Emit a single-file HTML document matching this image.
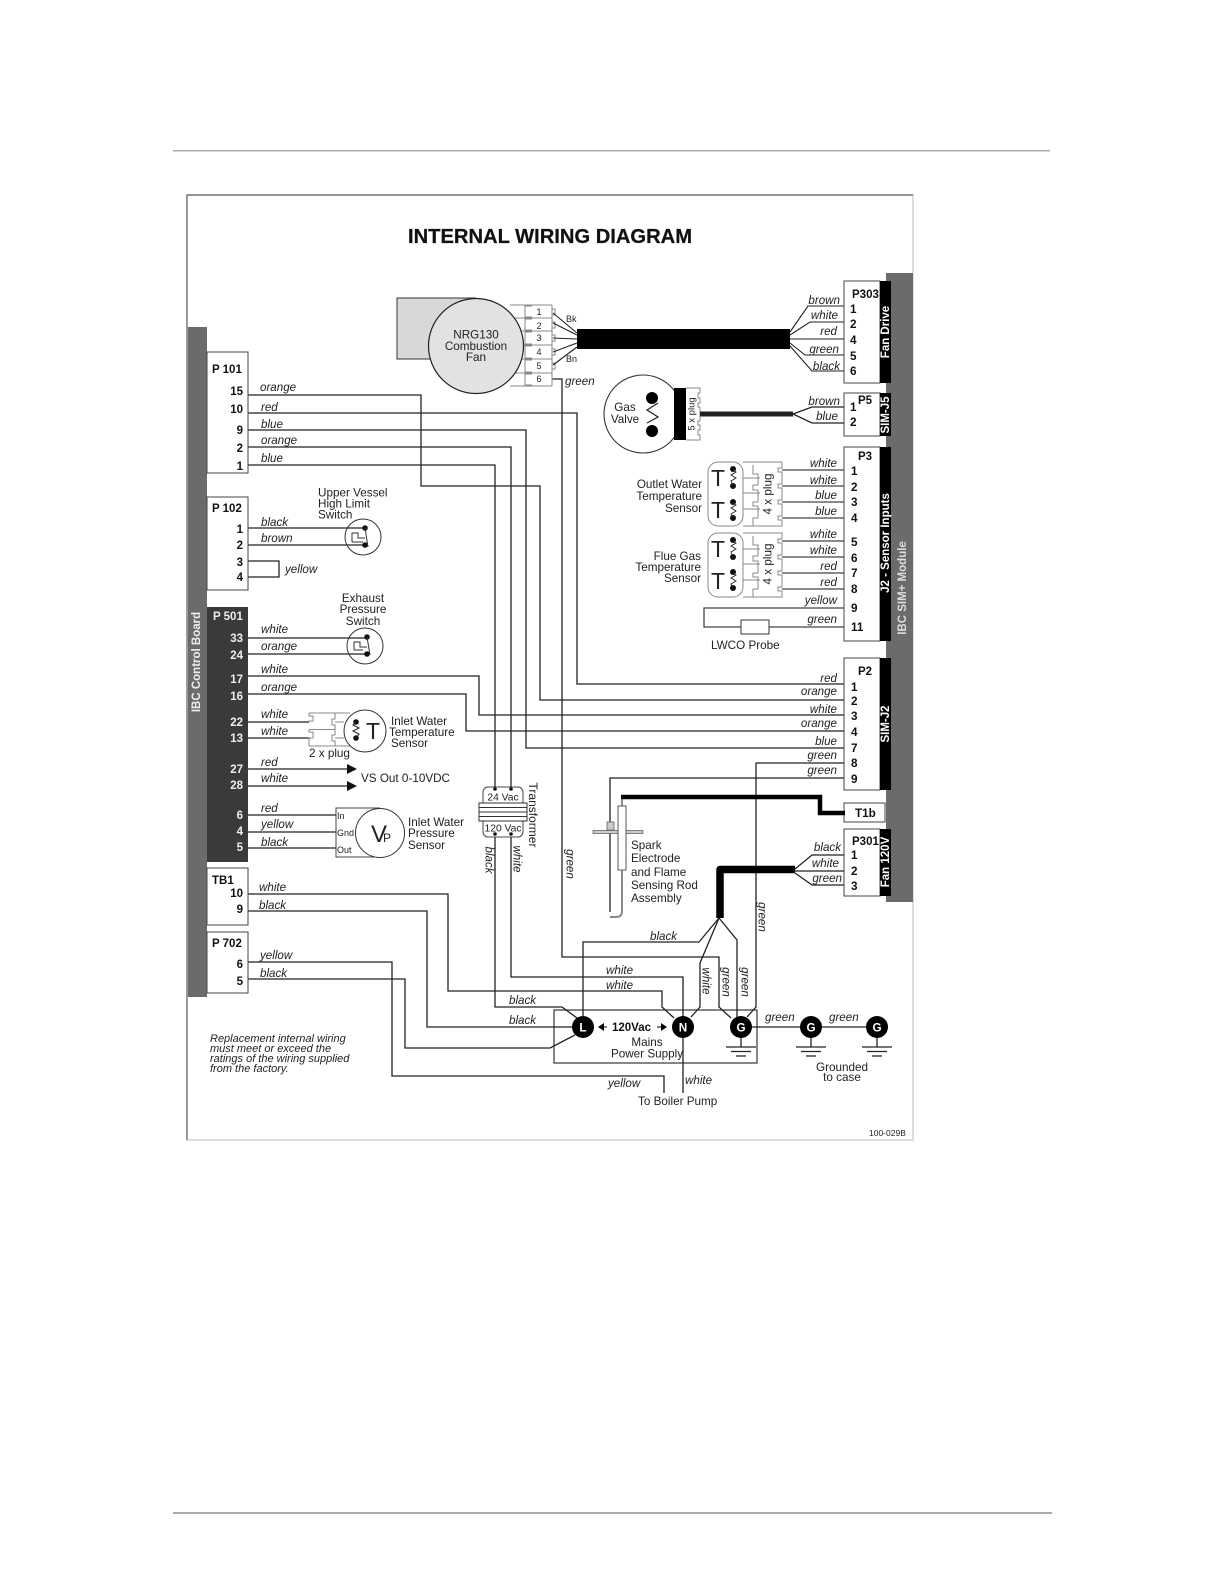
<!DOCTYPE html>
<html><head><meta charset="utf-8"><style>
html,body{margin:0;padding:0;background:#fff}
svg{display:block;filter:blur(.35px)}
text{font-family:"Liberation Sans",sans-serif;font-size:11.7px;fill:#222}
.i,.i text{font-style:italic;font-size:11.6px}
.b{font-weight:bold;fill:#111}
.w{font-weight:bold;fill:#fff}
.e{text-anchor:end}
.m{text-anchor:middle}
.c{dominant-baseline:central;text-anchor:middle}
.s{font-size:9px}
.n{font-weight:bold;font-size:11.5px;text-anchor:end;fill:#111}
.nw{font-weight:bold;font-size:11.5px;text-anchor:end;fill:#eee}
.p{fill:none;stroke:#222;stroke-width:1.3}
.g{fill:none;stroke:#888;stroke-width:1}
.box{fill:#fff;stroke:#444;stroke-width:1}
</style></head><body>
<svg width="1224" height="1584" viewBox="0 0 1224 1584" xmlns="http://www.w3.org/2000/svg">
<rect width="1224" height="1584" fill="#fff"/>
<rect x="173" y="150" width="877" height="1.5" fill="#aaa"/>
<rect x="173" y="1512" width="879" height="2" fill="#aaa"/>
<!-- frame -->
<rect x="187" y="195" width="726" height="945" fill="#fff" stroke="#d4d4d4" stroke-width="1.5"/>
<path d="M187,1140V195H913" fill="none" stroke="#666" stroke-width="1.2"/>
<text x="408" y="243" class="b" style="font-size:20.5px;stroke:#111;stroke-width:.25" textLength="284" lengthAdjust="spacingAndGlyphs">INTERNAL WIRING DIAGRAM</text>

<!-- bars -->
<rect x="188" y="327" width="19" height="670" fill="#6b6b6b"/>
<rect x="886" y="273" width="27" height="629" fill="#6b6b6b"/>
<text class="c" transform="translate(197 662) rotate(-90)" style="font-weight:bold;font-size:11.5px;fill:#eee">IBC Control Board</text>
<text class="c" transform="translate(903 588) rotate(-90)" style="font-weight:bold;font-size:11.5px;fill:#ddd">IBC SIM+ Module</text>

<!-- long wires -->
<g class="p">
<path d="M248,395H421V486H540V700H844"/>
<path d="M248,413H577V684H844"/>
<path d="M248,430H526V748H844"/>
<path d="M248,447H511V789"/>
<path d="M248,465H495V789"/>
<path d="M248,676H479V715H844"/>
<path d="M248,694H466V731H844"/>
<path d="M844,763H756V1007L747,1017"/>
<path d="M844,778H610V912"/>
<path d="M552,379H562V957H719V1007L731,1018"/>
<path d="M495,834V1007H562L577,1018"/>
<path d="M511,834V977H683V1093"/>
<path d="M248,894H448V991H662V1007L674,1018"/>
<path d="M248,911H427V1027H572"/>
<path d="M248,962H392V1076H664V1093"/>
<path d="M248,979H405V1048H550L575,1035"/>
<path d="M719,918L699,942H583V1027"/>
<path d="M719,918L700,963V1007L691,1017"/>
<path d="M719,918L737,940V1020"/>
<path d="M248,528H365M248,545H365"/>
<path d="M248,561H279V577H248"/>
<path d="M248,638H367M248,654H367"/>
<path d="M248,722H309M248,738H309"/>
<path d="M248,769H348M248,786H348"/>
<path d="M248,815H336M248,832H336M248,848H336"/>
<path d="M741,1027H877"/>
</g>
<path d="M347,764L357,769L347,774ZM347,781L357,786L347,791Z" fill="#111"/>

<!-- connector boxes left -->
<rect class="box" x="207" y="352" width="41" height="121"/>
<rect class="box" x="207" y="497" width="41" height="93"/>
<rect x="207" y="607" width="41" height="255" fill="#3a3a3a"/>
<rect class="box" x="207" y="868" width="41" height="57"/>
<rect class="box" x="207" y="932" width="41" height="61"/>
<text x="212" y="373" class="b" style="font-size:11.5px">P 101</text>
<text x="243" y="395" class="n">15</text><text x="243" y="413" class="n">10</text><text x="243" y="434" class="n">9</text><text x="243" y="452" class="n">2</text><text x="243" y="470" class="n">1</text>
<text x="212" y="512" class="b" style="font-size:11.5px">P 102</text>
<text x="243" y="533" class="n">1</text><text x="243" y="549" class="n">2</text><text x="243" y="566" class="n">3</text><text x="243" y="581" class="n">4</text>
<text x="213" y="620" class="w" style="font-size:11.5px;fill:#eee">P 501</text>
<text x="243" y="642" class="nw">33</text><text x="243" y="659" class="nw">24</text><text x="243" y="683" class="nw">17</text><text x="243" y="700" class="nw">16</text><text x="243" y="726" class="nw">22</text><text x="243" y="742" class="nw">13</text><text x="243" y="773" class="nw">27</text><text x="243" y="789" class="nw">28</text><text x="243" y="819" class="nw">6</text><text x="243" y="835" class="nw">4</text><text x="243" y="851" class="nw">5</text>
<text x="212" y="884" class="b" style="font-size:11.5px">TB1</text>
<text x="243" y="897" class="n">10</text><text x="243" y="913" class="n">9</text>
<text x="212" y="947" class="b" style="font-size:11.5px">P 702</text>
<text x="243" y="968" class="n">6</text><text x="243" y="985" class="n">5</text>

<!-- left wire labels -->
<g class="i">
<text x="260" y="391">orange</text><text x="261" y="411">red</text><text x="261" y="428">blue</text><text x="261" y="444">orange</text><text x="261" y="462">blue</text>
<text x="261" y="526">black</text><text x="261" y="542">brown</text><text x="285" y="573">yellow</text>
<text x="261" y="633">white</text><text x="261" y="650">orange</text><text x="261" y="673">white</text><text x="261" y="691">orange</text>
<text x="261" y="718">white</text><text x="261" y="735">white</text><text x="261" y="766">red</text><text x="261" y="782">white</text>
<text x="261" y="812">red</text><text x="261" y="828">yellow</text><text x="261" y="846">black</text>
<text x="259" y="891">white</text><text x="259" y="909">black</text><text x="260" y="959">yellow</text><text x="260" y="977">black</text>
</g>

<!-- switches -->
<text x="318" y="496.5">Upper Vessel</text><text x="318" y="507.5">High Limit</text><text x="318" y="518.5">Switch</text>
<circle cx="363" cy="537" r="18" fill="none" stroke="#333"/>
<circle cx="365" cy="528" r="2.8" fill="#111"/><circle cx="365" cy="545" r="2.8" fill="#111"/>
<path d="M365,528L368,547M352,542V533H358V538H365M352,542H363" fill="none" stroke="#333"/>
<text x="363" y="602" class="m">Exhaust</text><text x="363" y="613" class="m">Pressure</text><text x="363" y="625" class="m">Switch</text>
<circle cx="365" cy="646" r="18" fill="none" stroke="#333"/>
<circle cx="367" cy="637" r="2.8" fill="#111"/><circle cx="367" cy="654" r="2.8" fill="#111"/>
<path d="M367,637L370,655M354,650V642H360V647H367M354,650H363" fill="none" stroke="#333"/>

<!-- inlet temperature -->
<path class="g" d="M309,713H335M309,746H335M309,729.5H335M309,713V716H313V721H309V722M309,729.5V732H313V738H309V746M335,713V719H332V725H335V729.5M335,729.5V735H332V741H335V746M335,713H350M335,746H350M335,722H344M335,738H344"/>
<circle cx="365" cy="731" r="21" fill="#fff" stroke="#333"/>
<circle cx="356" cy="722" r="2.8" fill="#111"/><circle cx="356" cy="738" r="2.8" fill="#111"/>
<path d="M356,722L353,725L359,728L353,731L359,734L356,738" fill="none" stroke="#222"/>
<text x="373" y="739" class="m" style="font-size:23px">T</text>
<text x="391" y="725">Inlet Water</text><text x="389" y="736">Temperature</text><text x="391" y="747">Sensor</text>
<text x="309" y="757">2 x plug</text>
<text x="361" y="782">VS Out 0-10VDC</text>

<!-- pressure -->
<path d="M380,808H336V857H380" fill="none" stroke="#444"/>
<circle cx="380" cy="833" r="24.5" fill="#fff" stroke="#333"/>
<text x="337" y="819" class="s">In</text><text x="337" y="836" class="s">Gnd</text><text x="337" y="853" class="s">Out</text>
<text x="371" y="842" style="font-size:24px">V</text><text x="383" y="842" style="font-size:12px">P</text>
<text x="408" y="826">Inlet Water</text><text x="408" y="837">Pressure</text><text x="408" y="849">Sensor</text>

<!-- fan -->
<path d="M476,298H397V359H450" fill="#d8d8d8" stroke="#333"/>
<path class="g" d="M510,305H552M510,318H552M510,331H552M510,345H552M510,359H552M510,373H552M510,386H552M532,306H525V317H532M532,319H525V330H532M532,332H525V344H532M532,346H525V358H532M532,360H525V372H532M532,374H525V385H532M552,305V386M552,309H555V315H552M552,322H555V328H552M552,335H555V341H552M552,349H555V355H552M552,363H555V369H552"/>
<circle cx="476" cy="346" r="47.5" fill="#e2e2e2" stroke="#222" stroke-width="1.2"/>
<text x="476" y="338.5" class="m">NRG130</text><text x="476" y="350" class="m">Combustion</text><text x="476" y="361" class="m">Fan</text>
<text x="539" y="315" class="m s">1</text><text x="539" y="329" class="m s">2</text><text x="539" y="341" class="m s">3</text><text x="539" y="355" class="m s">4</text><text x="539" y="369" class="m s">5</text><text x="539" y="382" class="m s">6</text>
<text x="566" y="322" class="s">Bk</text><text x="566" y="362" class="s">Bn</text>
<text x="565" y="385" class="i">green</text>
<g class="p" style="stroke-width:1.1">
<path d="M553,313L577,333M553,323L577,335M553,338L577,339M553,352L577,343M553,365L577,347"/>
<path d="M844,306H808L790,332M844,322H810L790,335M844,339H790M844,355H805L790,343M844,371H812L790,346"/>
</g>
<rect x="577" y="329" width="213" height="20" fill="#000"/>

<!-- right connectors -->
<rect class="box" x="844" y="281" width="36" height="102"/><rect x="880" y="281" width="11" height="102" fill="#000"/>
<rect class="box" x="844" y="393" width="36" height="43"/><rect x="880" y="393" width="11" height="43" fill="#000"/>
<rect class="box" x="844" y="447" width="36" height="194"/><rect x="880" y="447" width="11" height="194" fill="#000"/>
<rect class="box" x="844" y="658" width="36" height="132"/><rect x="880" y="658" width="11" height="132" fill="#000"/>
<rect class="box" x="844" y="803" width="41" height="19"/>
<rect class="box" x="844" y="829" width="36" height="67"/><rect x="880" y="829" width="11" height="67" fill="#000"/>
<text class="c" transform="translate(886 332) rotate(-90)" style="font-weight:bold;font-size:11.5px;fill:#fff">Fan Drive</text>
<text class="c" transform="translate(886 415) rotate(-90)" style="font-weight:bold;font-size:11.5px;fill:#fff">SIM-J5</text>
<text class="c" transform="translate(886 543) rotate(-90)" style="font-weight:bold;font-size:11.5px;fill:#fff">J2 - Sensor Inputs</text>
<text class="c" transform="translate(886 724) rotate(-90)" style="font-weight:bold;font-size:11.5px;fill:#fff">SIM-J2</text>
<text class="c" transform="translate(886 862) rotate(-90)" style="font-weight:bold;font-size:11.5px;fill:#fff">Fan 120V</text>
<g style="font-weight:bold">
<text x="852" y="298" class="b" style="font-size:11.5px">P303</text>
<text x="850" y="313" class="b">1</text><text x="850" y="328" class="b">2</text><text x="850" y="344" class="b">4</text><text x="850" y="360" class="b">5</text><text x="850" y="375" class="b">6</text>
<text x="858" y="404" class="b" style="font-size:11.5px">P5</text>
<text x="850" y="411" class="b">1</text><text x="850" y="426" class="b">2</text>
<text x="858" y="460" class="b" style="font-size:11.5px">P3</text>
<text x="851" y="475" class="b">1</text><text x="851" y="491" class="b">2</text><text x="851" y="506" class="b">3</text><text x="851" y="522" class="b">4</text><text x="851" y="546" class="b">5</text><text x="851" y="562" class="b">6</text><text x="851" y="577" class="b">7</text><text x="851" y="593" class="b">8</text><text x="851" y="612" class="b">9</text><text x="851" y="631" class="b">11</text>
<text x="858" y="675" class="b" style="font-size:11.5px">P2</text>
<text x="851" y="691" class="b">1</text><text x="851" y="705" class="b">2</text><text x="851" y="720" class="b">3</text><text x="851" y="736" class="b">4</text><text x="851" y="752" class="b">7</text><text x="851" y="767" class="b">8</text><text x="851" y="783" class="b">9</text>
<text x="855" y="817" class="b">T1b</text>
<text x="852" y="845" class="b" style="font-size:11.5px">P301</text>
<text x="851" y="859" class="b">1</text><text x="851" y="875" class="b">2</text><text x="851" y="890" class="b">3</text>
</g>

<!-- right labels -->
<g class="i">
<text x="840" y="304" class="e">brown</text><text x="838" y="319" class="e">white</text><text x="837" y="335" class="e">red</text><text x="839" y="353" class="e">green</text><text x="840" y="370" class="e">black</text>
<text x="840" y="405" class="e">brown</text><text x="838" y="420" class="e">blue</text>
<text x="837" y="467" class="e">white</text><text x="837" y="484" class="e">white</text><text x="837" y="499" class="e">blue</text><text x="837" y="515" class="e">blue</text>
<text x="837" y="538" class="e">white</text><text x="837" y="554" class="e">white</text><text x="837" y="570" class="e">red</text><text x="837" y="586" class="e">red</text>
<text x="837" y="604" class="e">yellow</text><text x="837" y="623" class="e">green</text>
<text x="837" y="682" class="e">red</text><text x="837" y="695" class="e">orange</text><text x="837" y="713" class="e">white</text><text x="837" y="727" class="e">orange</text><text x="837" y="745" class="e">blue</text><text x="837" y="759" class="e">green</text><text x="837" y="774" class="e">green</text>
<text x="841" y="851" class="e">black</text><text x="839" y="867" class="e">white</text><text x="842" y="882" class="e">green</text>
</g>

<!-- gas valve -->
<circle cx="643" cy="414" r="39" fill="#fff" stroke="#333" stroke-width="1.1"/>
<rect x="674" y="388" width="12" height="52" fill="#000"/>
<path class="g" d="M686,388H700V393H698V398H700V403H698V407H700M686,440H700V435H698V430H700V425H698V421H700M700,407V421"/>
<text class="c s" transform="translate(692 414) rotate(-90)" style="font-size:9.5px">5 x plug</text>
<circle cx="652" cy="398" r="6" fill="#000"/><circle cx="652" cy="431" r="6" fill="#000"/>
<path d="M658,403L647,410L658,417L647,423" fill="none" stroke="#222" stroke-width="1.2"/>
<text x="625" y="411" class="m">Gas</text><text x="625" y="423" class="m">Valve</text>
<rect x="700" y="411.5" width="93" height="5" fill="#222"/>
<path class="p" d="M844,407H812L793,414M844,423H812L793,414"/>

<!-- sensors group 1 -->
<g class="p" style="stroke:#444">
<path d="M782,470H844M782,486H844M782,502H844M782,518H844M782,541H844M782,557H844M782,573H844M782,589H844"/>
<path d="M844,608H704V627H741M769,627H844"/>
</g>
<g class="g">
<rect x="708" y="462" width="35" height="64" rx="10"/>
<path d="M743,462H782V468H778V472H782V484H778V488H782V500H778V504H782V516H778V520H782V526H743"/>
<path d="M753,465V474H758V485H753V490H758V502H753V506H758V518H753V526M743,478H760M743,493H760M743,509H760"/>
<rect x="708" y="533" width="35" height="64" rx="10"/>
<path d="M743,533H782V539H778V543H782V555H778V559H782V571H778V575H782V587H778V591H782V597H743"/>
<path d="M753,536V545H758V556H753V561H758V573H753V577H758V589H753V597M743,549H760M743,564H760M743,580H760"/>
</g>
<text x="718" y="486" class="m" style="font-size:23px">T</text><text x="718" y="518" class="m" style="font-size:23px">T</text>
<text x="718" y="557" class="m" style="font-size:23px">T</text><text x="718" y="589" class="m" style="font-size:23px">T</text>
<g fill="#111">
<circle cx="733" cy="469" r="3"/><circle cx="733" cy="486" r="3"/><circle cx="733" cy="502" r="3"/><circle cx="733" cy="518" r="3"/>
<circle cx="733" cy="540" r="3"/><circle cx="733" cy="557" r="3"/><circle cx="733" cy="572" r="3"/><circle cx="733" cy="588" r="3"/>
</g>
<path d="M733,469L736,472L731,475L736,478L731,481L733,486M733,502L736,505L731,508L736,511L731,514L733,518M733,540L736,543L731,546L736,549L731,552L733,557M733,572L736,575L731,578L736,581L731,584L733,588" fill="none" stroke="#222" stroke-width=".9"/>
<text class="c" transform="translate(768 494) rotate(-90)">4 x plug</text>
<text class="c" transform="translate(768 564) rotate(-90)">4 x plug</text>
<text x="702" y="488" class="e">Outlet Water</text><text x="702" y="500" class="e">Temperature</text><text x="702" y="512" class="e">Sensor</text>
<text x="701" y="560" class="e">Flue Gas</text><text x="701" y="571" class="e">Temperature</text><text x="701" y="582" class="e">Sensor</text>
<rect x="741" y="620" width="28" height="14" fill="#fff" stroke="#333"/>
<text x="711" y="649">LWCO Probe</text>

<!-- transformer -->
<rect x="483" y="787" width="40" height="50" rx="5" fill="#fff" stroke="#444"/>
<rect x="479" y="803" width="48" height="18" fill="#fff" stroke="#333"/>
<path d="M479,807.5H527M479,812H527M479,816.5H527" stroke="#333" fill="none"/>
<text x="503" y="800.5" class="m" style="font-size:10.3px">24 Vac</text><text x="503" y="831.5" class="m" style="font-size:10.3px">120 Vac</text>
<circle cx="495" cy="789" r="1.8" fill="#111"/><circle cx="511" cy="789" r="1.8" fill="#111"/><circle cx="495" cy="834" r="1.8" fill="#111"/><circle cx="511" cy="834" r="1.8" fill="#111"/>
<text class="c" transform="translate(533 815) rotate(90)" style="font-size:12px">Transformer</text>
<text class="c i" transform="translate(489 860) rotate(90)">black</text>
<text class="c i" transform="translate(517 859) rotate(90)">white</text>
<text class="c i" transform="translate(570 864) rotate(90)">green</text>
<text class="c i" transform="translate(762 917) rotate(90)">green</text>
<text class="c i" transform="translate(706 981) rotate(90)">white</text>
<text class="c i" transform="translate(726 982) rotate(90)">green</text>
<text class="c i" transform="translate(745 982) rotate(90)">green</text>

<!-- spark -->
<path d="M621,797H820V813H845" fill="none" stroke="#000" stroke-width="4.5"/>
<path d="M622,797V806" stroke="#222" fill="none"/>
<rect x="607" y="822" width="7" height="8" fill="#ccc" stroke="#777"/>
<rect x="593" y="830.5" width="50" height="3" fill="#ccc" stroke="#666" stroke-width=".8"/>
<rect x="618" y="806" width="8" height="64" fill="#fff" stroke="#555"/>
<path d="M622,870V911Q622,917 616,917H610" fill="none" stroke="#888" stroke-width="2"/>
<text x="631" y="849">Spark</text><text x="631" y="862">Electrode</text><text x="631" y="876">and Flame</text><text x="631" y="889">Sensing Rod</text><text x="631" y="902">Assembly</text>

<!-- fan 120 cable -->
<path d="M720,918V869.5H795" fill="none" stroke="#000" stroke-width="7.5" stroke-linejoin="round"/>
<path class="p" d="M844,855H812L795,869M844,871H795M844,885H812L795,873"/>

<!-- mains -->
<rect x="554" y="1010" width="203" height="53" fill="none" stroke="#222" stroke-width="1.1"/>
<g fill="#000"><circle cx="583" cy="1027" r="11"/><circle cx="683" cy="1027" r="11"/><circle cx="741" cy="1027" r="11"/><circle cx="811" cy="1027" r="11"/><circle cx="877" cy="1027" r="11"/></g>
<g style="font-weight:bold"><text x="583" y="1031.5" class="m" style="fill:#fff;font-weight:bold">L</text><text x="683" y="1031.5" class="m" style="fill:#fff;font-weight:bold">N</text><text x="741" y="1031.5" class="m" style="fill:#fff;font-weight:bold">G</text><text x="811" y="1031.5" class="m" style="fill:#fff;font-weight:bold">G</text><text x="877" y="1031.5" class="m" style="fill:#fff;font-weight:bold">G</text></g>
<path class="p" d="M741,1038V1047M726,1047H756M731,1051.5H751M736,1056H746M811,1038V1047M796,1047H826M801,1051.5H821M806,1056H816M877,1038V1047M862,1047H892M867,1051.5H887M872,1056H882"/>
<path d="M598,1027L604,1023V1031ZM667,1027L661,1023V1031Z" fill="#000"/><path d="M603,1027H607M657,1027H662" stroke="#000"/>
<text x="612" y="1031" class="b" style="font-size:11.5px">120Vac</text>
<text x="647" y="1046" class="m">Mains</text><text x="647" y="1057.5" class="m">Power Supply</text>
<text x="842" y="1071" class="m">Grounded</text><text x="842" y="1081" class="m">to case</text>
<g class="i">
<text x="650" y="940">black</text><text x="606" y="974">white</text><text x="606" y="989">white</text>
<text x="509" y="1004">black</text><text x="509" y="1024">black</text>
<text x="765" y="1021">green</text><text x="829" y="1021">green</text>
<text x="608" y="1087">yellow</text><text x="685" y="1084">white</text>
</g>
<text x="638" y="1105">To Boiler Pump</text>
<text x="869" y="1136" style="font-size:8.5px">100-029B</text>
<text x="210" y="1042" class="i" style="font-size:11px">Replacement internal wiring</text>
<text x="210" y="1052" class="i" style="font-size:11px">must meet or exceed the</text>
<text x="210" y="1062" class="i" style="font-size:11px">ratings of the wiring supplied</text>
<text x="210" y="1072" class="i" style="font-size:11px">from the factory.</text>
</svg>
</body></html>
